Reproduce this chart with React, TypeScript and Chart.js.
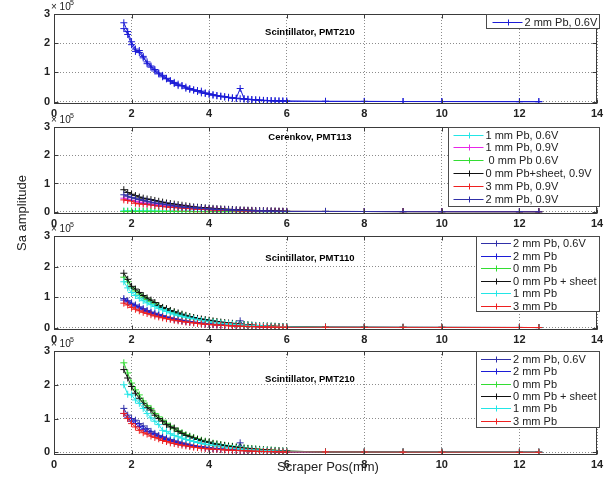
import React, { useEffect, useRef } from "react";
import { Chart, registerables } from "chart.js";
Chart.register(...registerables);

// ---------- DATA (amplitudes in units of 1e5) ----------
const X_DENSE = [
  1.8, 1.9, 2.0, 2.1, 2.2, 2.3, 2.4, 2.5, 2.6, 2.7,
  2.8, 2.9, 3.0, 3.1, 3.2, 3.3, 3.4, 3.5, 3.6, 3.7,
  3.8, 3.9, 4.0, 4.1, 4.2, 4.3, 4.4, 4.5, 4.6, 4.7,
  4.8, 4.9, 5.0, 5.1, 5.2, 5.3, 5.4, 5.5, 5.6, 5.7,
  5.8, 5.9, 6.0,
];
const X_TAIL = [7, 8, 9, 10, 12, 12.5];
const Y_TAIL = [0.01, 0.008, 0.005, 0.004, 0.002, 0.001];
const X_TICKS = [0, 2, 4, 6, 8, 10, 12, 14];
const Y_TICKS = [0, 1, 2, 3];

// Panel 1: Scintillator, PMT210
const P1_BLUE = [
  2.70, 2.40, 2.05, 1.80, 1.68, 1.50, 1.36, 1.22, 1.10, 0.98,
  0.90, 0.80, 0.72, 0.66, 0.60, 0.54, 0.50, 0.45, 0.40, 0.38,
  0.36, 0.30, 0.27, 0.24, 0.21, 0.19, 0.17, 0.15, 0.13, 0.12,
  0.45, 0.10, 0.08, 0.07, 0.06, 0.05, 0.045, 0.04, 0.035, 0.03,
  0.025, 0.02, 0.02,
];
const P1_BLUE_PASS2 = [
  2.50, 2.30, 1.95, 1.72, 1.75, 1.55, 1.30, 1.18, 1.05, 0.95,
  0.85, 0.78, 0.70, 0.62, 0.55, 0.55, 0.46, 0.42, 0.40, 0.35,
  0.30, 0.28, 0.25, 0.22, 0.20, 0.18, 0.16, 0.14, 0.12, 0.11,
  0.10, 0.09, 0.08, 0.07, 0.06, 0.05, 0.04, 0.035, 0.03, 0.025,
  0.02, 0.02, 0.015,
];

// Panel 2: Cerenkov, PMT113
const P2_CYAN = [
  0.03, 0.03, 0.03, 0.03, 0.03, 0.025, 0.025, 0.025, 0.02, 0.02,
  0.02, 0.02, 0.02, 0.02, 0.015, 0.015, 0.015, 0.015, 0.01, 0.01,
  0.01, 0.01, 0.01, 0.01, 0.01, 0.01, 0.01, 0.01, 0.01, 0.01,
  0.01, 0.01, 0.01, 0.01, 0.01, 0.01, 0.01, 0.01, 0.01, 0.01,
  0.01, 0.01, 0.01,
];
const P2_MAGENTA = [
  0.48, 0.44, 0.40, 0.37, 0.34, 0.31, 0.29, 0.27, 0.25, 0.23,
  0.21, 0.19, 0.18, 0.16, 0.15, 0.14, 0.13, 0.12, 0.11, 0.10,
  0.09, 0.085, 0.08, 0.07, 0.065, 0.06, 0.055, 0.05, 0.045, 0.04,
  0.04, 0.035, 0.03, 0.03, 0.025, 0.025, 0.02, 0.02, 0.015, 0.015,
  0.01, 0.01, 0.01,
];
const P2_GREEN = [
  0.01, 0.01, 0.01, 0.01, 0.01, 0.01, 0.01, 0.01, 0.01, 0.01,
  0.01, 0.01, 0.01, 0.01, 0.01, 0.01, 0.01, 0.01, 0.005, 0.005,
  0.005, 0.005, 0.005, 0.005, 0.005, 0.005, 0.005, 0.005, 0.005, 0.005,
  0.005, 0.005, 0.005, 0.005, 0.005, 0.005, 0.005, 0.005, 0.005, 0.005,
  0.005, 0.005, 0.005,
];
const P2_BLACK = [
  0.78, 0.68, 0.62, 0.57, 0.52, 0.48, 0.45, 0.43, 0.40, 0.37,
  0.34, 0.31, 0.29, 0.27, 0.25, 0.23, 0.21, 0.19, 0.17, 0.16,
  0.15, 0.14, 0.13, 0.12, 0.11, 0.10, 0.09, 0.085, 0.08, 0.07,
  0.065, 0.06, 0.055, 0.05, 0.045, 0.04, 0.035, 0.03, 0.03, 0.025,
  0.02, 0.02, 0.015,
];
const P2_RED = [
  0.42, 0.40, 0.38, 0.30, 0.28, 0.27, 0.26, 0.24, 0.22, 0.20,
  0.19, 0.17, 0.16, 0.15, 0.14, 0.13, 0.12, 0.11, 0.10, 0.09,
  0.085, 0.08, 0.07, 0.065, 0.06, 0.055, 0.05, 0.045, 0.04, 0.035,
  0.03, 0.03, 0.025, 0.025, 0.02, 0.02, 0.015, 0.015, 0.01, 0.01,
  0.01, 0.01, 0.01,
];
const P2_BLUE = [
  0.60, 0.55, 0.50, 0.46, 0.43, 0.40, 0.37, 0.34, 0.31, 0.29,
  0.27, 0.25, 0.23, 0.21, 0.19, 0.17, 0.16, 0.15, 0.14, 0.13,
  0.12, 0.11, 0.10, 0.09, 0.085, 0.08, 0.07, 0.065, 0.06, 0.055,
  0.05, 0.045, 0.04, 0.035, 0.03, 0.03, 0.025, 0.02, 0.02, 0.015,
  0.015, 0.01, 0.01,
];

// Panel 3: Scintillator, PMT110
const P3_BLUE06 = [
  0.95, 0.88, 0.80, 0.74, 0.68, 0.62, 0.56, 0.51, 0.47, 0.43,
  0.39, 0.35, 0.32, 0.29, 0.27, 0.24, 0.22, 0.20, 0.18, 0.16,
  0.15, 0.13, 0.12, 0.11, 0.10, 0.09, 0.08, 0.07, 0.065, 0.06,
  0.22, 0.05, 0.045, 0.04, 0.035, 0.03, 0.03, 0.025, 0.02, 0.02,
  0.015, 0.015, 0.01,
];
const P3_BLUE2 = [
  0.90, 0.84, 0.76, 0.70, 0.64, 0.58, 0.53, 0.48, 0.44, 0.40,
  0.36, 0.33, 0.30, 0.27, 0.25, 0.22, 0.20, 0.18, 0.17, 0.15,
  0.14, 0.12, 0.11, 0.10, 0.09, 0.08, 0.07, 0.065, 0.06, 0.055,
  0.05, 0.045, 0.04, 0.035, 0.03, 0.03, 0.025, 0.02, 0.02, 0.015,
  0.015, 0.01, 0.01,
];
const P3_GREEN = [
  1.65, 1.50, 1.30, 1.20, 1.10, 1.00, 0.92, 0.85, 0.78, 0.71,
  0.65, 0.60, 0.55, 0.50, 0.46, 0.42, 0.38, 0.35, 0.32, 0.29,
  0.26, 0.24, 0.22, 0.20, 0.18, 0.16, 0.15, 0.13, 0.12, 0.11,
  0.10, 0.09, 0.08, 0.07, 0.065, 0.06, 0.055, 0.05, 0.045, 0.04,
  0.035, 0.03, 0.03,
];
const P3_BLACK = [
  1.78, 1.58, 1.35, 1.26, 1.15, 1.05, 0.97, 0.90, 0.82, 0.72,
  0.66, 0.62, 0.56, 0.52, 0.48, 0.44, 0.40, 0.36, 0.33, 0.30,
  0.28, 0.26, 0.24, 0.22, 0.20, 0.18, 0.16, 0.15, 0.14, 0.12,
  0.11, 0.10, 0.09, 0.08, 0.07, 0.065, 0.06, 0.05, 0.045, 0.04,
  0.035, 0.03, 0.03,
];
const P3_CYAN = [
  1.50, 1.30, 1.15, 1.05, 0.96, 0.88, 0.81, 0.75, 0.69, 0.63,
  0.58, 0.53, 0.48, 0.44, 0.40, 0.37, 0.34, 0.31, 0.28, 0.25,
  0.23, 0.21, 0.19, 0.17, 0.16, 0.14, 0.13, 0.12, 0.11, 0.10,
  0.09, 0.08, 0.07, 0.065, 0.06, 0.055, 0.05, 0.045, 0.04, 0.035,
  0.03, 0.03, 0.025,
];
const P3_RED = [
  0.80, 0.74, 0.66, 0.60, 0.55, 0.50, 0.46, 0.42, 0.38, 0.35,
  0.32, 0.29, 0.27, 0.24, 0.22, 0.20, 0.18, 0.17, 0.15, 0.14,
  0.12, 0.11, 0.10, 0.09, 0.08, 0.075, 0.07, 0.06, 0.055, 0.05,
  0.045, 0.04, 0.035, 0.03, 0.03, 0.025, 0.02, 0.02, 0.015, 0.015,
  0.01, 0.01, 0.01,
];

// Panel 4: Scintillator, PMT210
const P4_BLUE06 = [
  1.30, 1.10, 1.00, 0.95, 0.85, 0.78, 0.70, 0.62, 0.56, 0.50,
  0.46, 0.42, 0.38, 0.34, 0.31, 0.28, 0.25, 0.22, 0.20, 0.18,
  0.17, 0.15, 0.14, 0.12, 0.11, 0.10, 0.09, 0.08, 0.075, 0.07,
  0.28, 0.06, 0.055, 0.05, 0.045, 0.04, 0.035, 0.03, 0.025, 0.02,
  0.02, 0.015, 0.015,
];
const P4_BLUE2 = [
  1.15, 1.02, 0.92, 0.85, 0.76, 0.68, 0.62, 0.56, 0.52, 0.46,
  0.42, 0.38, 0.34, 0.31, 0.28, 0.25, 0.22, 0.20, 0.18, 0.16,
  0.15, 0.13, 0.12, 0.11, 0.10, 0.09, 0.08, 0.07, 0.065, 0.06,
  0.055, 0.05, 0.045, 0.04, 0.035, 0.03, 0.025, 0.02, 0.02, 0.015,
  0.015, 0.01, 0.01,
];
const P4_GREEN = [
  2.65, 2.35, 2.05, 1.85, 1.70, 1.52, 1.38, 1.30, 1.15, 1.05,
  0.95, 0.86, 0.78, 0.70, 0.64, 0.58, 0.52, 0.48, 0.44, 0.40,
  0.36, 0.33, 0.30, 0.27, 0.25, 0.23, 0.21, 0.19, 0.18, 0.16,
  0.15, 0.13, 0.12, 0.11, 0.10, 0.09, 0.08, 0.07, 0.065, 0.06,
  0.05, 0.04, 0.035,
];
const P4_BLACK = [
  2.45, 2.20, 1.95, 1.75, 1.60, 1.45, 1.32, 1.25, 1.10, 1.00,
  0.92, 0.82, 0.75, 0.72, 0.62, 0.56, 0.50, 0.46, 0.42, 0.38,
  0.34, 0.31, 0.30, 0.26, 0.24, 0.22, 0.20, 0.18, 0.17, 0.15,
  0.14, 0.12, 0.11, 0.10, 0.09, 0.08, 0.07, 0.065, 0.06, 0.05,
  0.045, 0.04, 0.035,
];
const P4_CYAN = [
  2.00, 1.72, 1.70, 1.55, 1.45, 1.30, 1.15, 1.02, 0.92, 0.82,
  0.65, 0.62, 0.55, 0.50, 0.46, 0.42, 0.38, 0.35, 0.32, 0.29,
  0.26, 0.24, 0.22, 0.20, 0.18, 0.16, 0.15, 0.13, 0.12, 0.11,
  0.10, 0.09, 0.08, 0.07, 0.065, 0.06, 0.05, 0.045, 0.04, 0.035,
  0.03, 0.03, 0.025,
];
const P4_RED = [
  1.15, 1.00, 0.85, 0.75, 0.65, 0.58, 0.54, 0.48, 0.44, 0.40,
  0.35, 0.32, 0.28, 0.26, 0.23, 0.21, 0.19, 0.17, 0.15, 0.14,
  0.12, 0.11, 0.10, 0.09, 0.085, 0.08, 0.07, 0.065, 0.06, 0.055,
  0.05, 0.045, 0.04, 0.035, 0.03, 0.03, 0.025, 0.02, 0.02, 0.015,
  0.015, 0.01, 0.01,
];

const P1_LABELS = ["2 mm Pb, 0.6V"];
const P2_LABELS = ["1 mm Pb, 0.6V", "1 mm Pb, 0.9V", " 0 mm Pb 0.6V", "0 mm Pb+sheet, 0.9V", "3 mm Pb, 0.9V", "2 mm Pb, 0.9V"];
const P34_LABELS = ["2 mm Pb, 0.6V", "2 mm Pb", "0 mm Pb", "0 mm Pb + sheet", "1 mm Pb", "3 mm Pb"];
const TITLES = ["Scintillator, PMT210", "Cerenkov, PMT113", "Scintillator, PMT110", "Scintillator, PMT210"];
const X_LABEL = "Scraper Pos(mm)";
const Y_LABEL = "Sa amplitude";

// ---------- STYLE ----------
const C_BLUE = "#1c1cd6";
const C_NAVY = "#3030a8";
const C_GREEN = "#33dd33";
const C_BLACK = "#111111";
const C_CYAN = "#22e6e6";
const C_RED = "#ee2020";
const C_MAGENTA = "#e826e8";

type Ser = { label: string; ys: number[]; color: string; legend: boolean };

const PANELS = [
  {
    canvasTop: 0, plotTop: 14, plotBottom: 104, title: TITLES[0], titleY: 2.38,
    legend: { width: 113, height: 14, row0: 7.5, rowH: 13, sampleOff: 6 },
    series: [
      { label: P1_LABELS[0], ys: P1_BLUE, color: C_BLUE, legend: true },
      { label: P1_LABELS[0], ys: P1_BLUE_PASS2, color: C_BLUE, legend: false },
    ] as Ser[],
  },
  {
    canvasTop: 113, plotTop: 127, plotBottom: 214, title: TITLES[1], titleY: 2.65,
    legend: { width: 151, height: 79, row0: 7, rowH: 12.9, sampleOff: 5 },
    series: [
      { label: P2_LABELS[0], ys: P2_CYAN, color: C_CYAN, legend: true },
      { label: P2_LABELS[1], ys: P2_MAGENTA, color: C_MAGENTA, legend: true },
      { label: P2_LABELS[2], ys: P2_GREEN, color: C_GREEN, legend: true },
      { label: P2_LABELS[3], ys: P2_BLACK, color: C_BLACK, legend: true },
      { label: P2_LABELS[4], ys: P2_RED, color: C_RED, legend: true },
      { label: P2_LABELS[5], ys: P2_BLUE, color: C_NAVY, legend: true },
    ] as Ser[],
  },
  {
    canvasTop: 222, plotTop: 236, plotBottom: 330, title: TITLES[2], titleY: 2.27,
    legend: { width: 123, height: 75, row0: 6.5, rowH: 12.5, sampleOff: 4.5 },
    series: [
      { label: P34_LABELS[0], ys: P3_BLUE06, color: C_NAVY, legend: true },
      { label: P34_LABELS[1], ys: P3_BLUE2, color: C_BLUE, legend: true },
      { label: P34_LABELS[2], ys: P3_GREEN, color: C_GREEN, legend: true },
      { label: P34_LABELS[3], ys: P3_BLACK, color: C_BLACK, legend: true },
      { label: P34_LABELS[4], ys: P3_CYAN, color: C_CYAN, legend: true },
      { label: P34_LABELS[5], ys: P3_RED, color: C_RED, legend: true },
    ] as Ser[],
  },
  {
    canvasTop: 337, plotTop: 351, plotBottom: 455, title: TITLES[3], titleY: 2.17,
    legend: { width: 123, height: 76, row0: 7.3, rowH: 12.4, sampleOff: 4.5 },
    series: [
      { label: P34_LABELS[0], ys: P4_BLUE06, color: C_NAVY, legend: true },
      { label: P34_LABELS[1], ys: P4_BLUE2, color: C_BLUE, legend: true },
      { label: P34_LABELS[2], ys: P4_GREEN, color: C_GREEN, legend: true },
      { label: P34_LABELS[3], ys: P4_BLACK, color: C_BLACK, legend: true },
      { label: P34_LABELS[4], ys: P4_CYAN, color: C_CYAN, legend: true },
      { label: P34_LABELS[5], ys: P4_RED, color: C_RED, legend: true },
    ] as Ser[],
  },
];

const W = 608;
const PLOT_LEFT = 54;
const PLOT_RIGHT = 597;
const BELOW = 20;
const ABOVE = 14;
const Y_MIN = -0.08;

function drawCross(ctx: CanvasRenderingContext2D, x: number, y: number, r: number) {
  ctx.beginPath();
  ctx.moveTo(x - r, y);
  ctx.lineTo(x + r, y);
  ctx.moveTo(x, y - r);
  ctx.lineTo(x, y + r);
  ctx.stroke();
}

const decorPlugin = {
  id: "decor",
  beforeDatasetsDraw(chart: any) {},
  beforeDraw(chart: any) {
    const { ctx, chartArea: a } = chart;
    ctx.save();
    ctx.fillStyle = "#ffffff";
    ctx.fillRect(a.left, a.top, a.right - a.left, a.bottom - a.top);
    ctx.restore();
  },
  afterDraw(chart: any, _args: any, opts: any) {
    const { ctx, chartArea: a, scales } = chart;
    const L = Math.round(a.left) + 0.5;
    const R = Math.round(a.right) - 0.5;
    const T = Math.round(a.top) + 0.5;
    const B = Math.round(a.bottom) - 0.5;
    ctx.save();
    // box
    ctx.strokeStyle = "#3a3a3a";
    ctx.lineWidth = 1;
    ctx.strokeRect(L, T, R - L, B - T);
    // inner tick marks
    ctx.beginPath();
    for (const v of X_TICKS) {
      const px = Math.round(scales.x.getPixelForValue(v)) + 0.5;
      ctx.moveTo(px, B); ctx.lineTo(px, B - 4);
      ctx.moveTo(px, T); ctx.lineTo(px, T + 4);
    }
    for (const v of Y_TICKS) {
      const py = Math.round(scales.y.getPixelForValue(v)) + 0.5;
      ctx.moveTo(L, py); ctx.lineTo(L + 4, py);
      ctx.moveTo(R, py); ctx.lineTo(R - 4, py);
    }
    ctx.stroke();

    // exponent label
    ctx.fillStyle = "#222";
    ctx.textAlign = "left";
    ctx.textBaseline = "alphabetic";
    ctx.font = "10px 'Liberation Sans', Arial, sans-serif";
    ctx.fillText("\u00d7 10", a.left - 3, a.top - 4);
    ctx.font = "7px 'Liberation Sans', Arial, sans-serif";
    ctx.fillText("5", a.left + 16, a.top - 9);

    // in-plot title
    ctx.font = "bold 9.5px 'Liberation Sans', Arial, sans-serif";
    ctx.textAlign = "center";
    ctx.textBaseline = "middle";
    ctx.fillStyle = "#000";
    ctx.fillText(opts.title, scales.x.getPixelForValue(opts.titleX), scales.y.getPixelForValue(opts.titleY));

    // legend
    const lg = opts.legend;
    const bx = Math.round(a.right + 2 - lg.width) + 0.5;
    const by = T;
    ctx.fillStyle = "#ffffff";
    ctx.fillRect(bx, by, lg.width, lg.height);
    ctx.strokeStyle = "#4a4a4a";
    ctx.strokeRect(bx, by, lg.width, lg.height);
    const items = chart.data.datasets.filter((d: any) => d.inLegend);
    ctx.font = "11px 'Liberation Sans', Arial, sans-serif";
    ctx.textAlign = "left";
    items.forEach((d: any, i: number) => {
      const cy = Math.round(by + lg.row0 + i * lg.rowH) + 0.5;
      const sx = bx + lg.sampleOff;
      ctx.strokeStyle = d.borderColor;
      ctx.lineWidth = 1;
      ctx.beginPath();
      ctx.moveTo(sx, cy);
      ctx.lineTo(sx + 30, cy);
      ctx.stroke();
      drawCross(ctx, Math.round(sx + 15) + 0.5, cy, 3);
      ctx.fillStyle = "#222";
      ctx.textBaseline = "middle";
      ctx.fillText(d.label, sx + 32, cy + 0.5);
    });
    ctx.restore();
  },
};

function Panel({ p }: { p: (typeof PANELS)[number] }) {
  const ref = useRef<HTMLCanvasElement | null>(null);
  const h = p.plotBottom - p.plotTop + ABOVE + BELOW;
  useEffect(() => {
    if (!ref.current) return;
    const xs = [...X_DENSE, ...X_TAIL];
    const datasets = p.series.map((s, i) => {
      const ys = [...s.ys, ...Y_TAIL];
      return {
        label: s.label,
        inLegend: s.legend,
        data: xs.map((x, k) => ({ x, y: ys[k] })),
        borderColor: s.color,
        backgroundColor: s.color,
        borderWidth: 1,
        pointStyle: "cross",
        pointRadius: 3.5,
        pointHoverRadius: 3.5,
        pointBorderWidth: 1,
        pointBorderColor: s.color,
        fill: false,
        tension: 0,
        order: -i,
      };
    });
    const tickFont = { family: "'Liberation Sans', Arial, sans-serif", size: 11, weight: "bold" as const };
    const chart = new Chart(ref.current, {
      type: "line",
      data: { datasets: datasets as any },
      options: {
        responsive: false,
        animation: false,
        events: [],
        layout: { padding: { left: 0, right: W - PLOT_RIGHT, top: ABOVE, bottom: 0 } },
        plugins: {
          legend: { display: false },
          tooltip: { enabled: false },
          decor: { title: p.title, titleX: 6.6, titleY: p.titleY, legend: p.legend },
        } as any,
        scales: {
          x: {
            type: "linear",
            min: 0,
            max: 14,
            afterBuildTicks: (s: any) => { s.ticks = X_TICKS.map((v) => ({ value: v })); },
            afterFit: (s: any) => { s.height = BELOW; },
            ticks: { font: tickFont, color: "#222", padding: 3, maxRotation: 0, autoSkip: false },
            grid: { color: "#8c8c8c", lineWidth: 1, drawTicks: false },
            border: { display: false, dash: [1, 2] },
          },
          y: {
            type: "linear",
            min: Y_MIN,
            max: 3,
            afterBuildTicks: (s: any) => { s.ticks = Y_TICKS.map((v) => ({ value: v })); },
            afterFit: (s: any) => { s.width = PLOT_LEFT; },
            ticks: { font: tickFont, color: "#222", padding: 4 },
            grid: { color: "#8c8c8c", lineWidth: 1, drawTicks: false },
            border: { display: false, dash: [1, 2] },
          },
        },
      } as any,
      plugins: [decorPlugin as any],
    });
    return () => chart.destroy();
  }, []);
  return (
    <canvas
      ref={ref}
      width={W}
      height={h}
      style={{ position: "absolute", left: 0, top: p.canvasTop, width: W, height: h }}
    />
  );
}

export default function App() {
  return (
    <div style={{ position: "absolute", left: 0, top: 0, width: W, height: 477, background: "#fff", overflow: "hidden" }}>
      {PANELS.map((p, i) => (
        <Panel key={i} p={p} />
      ))}
      <div
        style={{
          position: "absolute", left: 22 - 60, top: 213 - 8, width: 120, height: 16, lineHeight: "16px",
          textAlign: "center", transform: "rotate(-90deg)", font: "13px 'Liberation Sans', Arial, sans-serif", color: "#222",
        }}
      >
        {Y_LABEL}
      </div>
      <div
        style={{
          position: "absolute", left: 228, top: 459, width: 200, height: 16, lineHeight: "16px",
          textAlign: "center", font: "13px 'Liberation Sans', Arial, sans-serif", color: "#222",
        }}
      >
        {X_LABEL}
      </div>
    </div>
  );
}
